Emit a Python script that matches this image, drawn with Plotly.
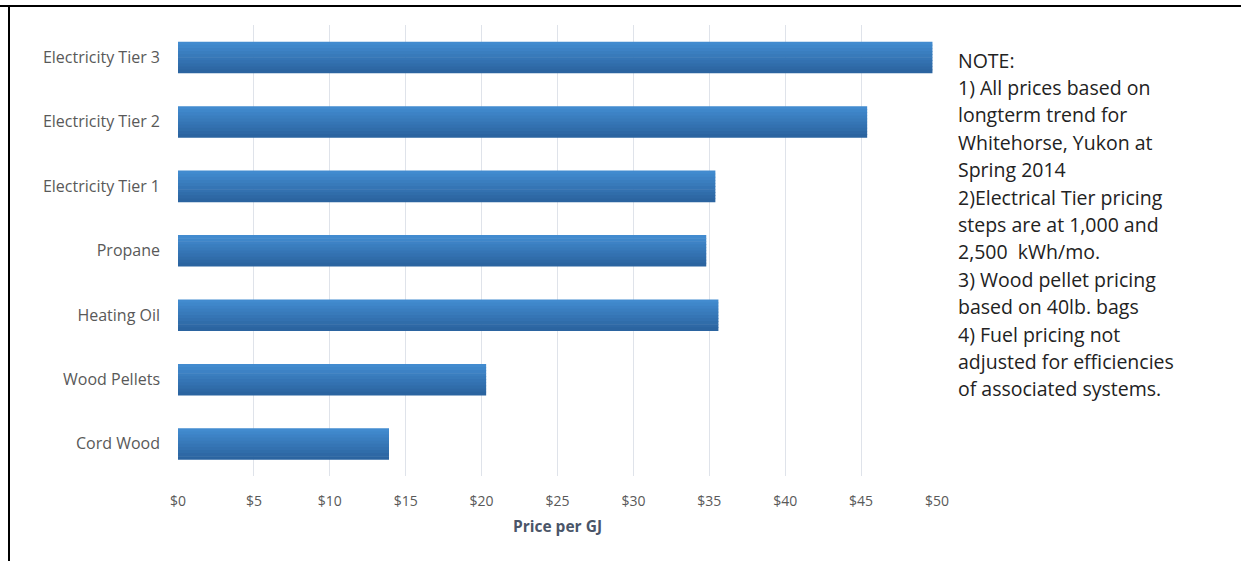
import plotly.graph_objects as go

categories = ["Electricity Tier 3", "Electricity Tier 2", "Electricity Tier 1",
              "Propane", "Heating Oil", "Wood Pellets", "Cord Wood"]
prices = [49.7, 45.4, 35.4, 34.8, 35.6, 20.3, 13.9]
tick_vals = [0, 5, 10, 15, 20, 25, 30, 35, 40, 45, 50]
tick_text = ["$0", "$5", "$10", "$15", "$20", "$25", "$30", "$35", "$40", "$45", "$50"]
note_lines = [
    "NOTE:",
    "1) All prices based on",
    "longterm trend for",
    "Whitehorse, Yukon at",
    "Spring 2014",
    "2)Electrical Tier pricing",
    "steps are at 1,000 and",
    "2,500  kWh/mo.",
    "3) Wood pellet pricing",
    "based on 40lb. bags",
    "4) Fuel pricing not",
    "adjusted for efficiencies",
    "of associated systems.",
]

W, H = 1241, 561
L, R, T, B = 178, 304, 25, 85
pw, ph = W - L - R, H - T - B

def px_x(p):
    return (p - L) / pw

def px_y(p):
    return 1 - (p - T) / ph

top_rgb = (0x42, 0x8b, 0xcf)
bot_rgb = (0x2b, 0x64, 0xa0)
n_bands = 10
bar_w = 0.48
band = bar_w / n_bands

fig = go.Figure()
for k in range(n_bands):
    t = k / (n_bands - 1)
    c = tuple(round(top_rgb[i] + (bot_rgb[i] - top_rgb[i]) * t) for i in range(3))
    fig.add_trace(go.Bar(
        y=categories, x=prices, orientation="h",
        width=band * 1.2, offset=-bar_w / 2 + k * band,
        marker=dict(color="rgb(%d,%d,%d)" % c, line=dict(width=0)),
        showlegend=False, hoverinfo="x+y",
    ))

shapes = [
    dict(type="line", xref="paper", yref="paper",
         x0=px_x(0), x1=px_x(W), y0=px_y(6), y1=px_y(6),
         line=dict(color="black", width=2)),
    dict(type="line", xref="paper", yref="paper",
         x0=px_x(9), x1=px_x(9), y0=px_y(5), y1=px_y(H + 2),
         line=dict(color="black", width=2)),
]

annotations = []
line_h = 27.4
for i, txt in enumerate(note_lines):
    annotations.append(dict(
        text=txt, xref="paper", yref="paper",
        x=px_x(956), y=px_y(60 + i * line_h), xanchor="left", yanchor="middle",
        showarrow=False, font=dict(family="Open Sans", size=19.5, color="#222222"),
    ))

fig.update_layout(
    width=W, height=H,
    margin=dict(l=L, r=R, t=T, b=B, pad=0),
    paper_bgcolor="white", plot_bgcolor="white",
    barmode="overlay", bargap=0.52,
    font=dict(family="Open Sans", size=14, color="#595959"),
    shapes=shapes, annotations=annotations,
    xaxis=dict(
        range=[0, 50], tickvals=tick_vals, ticktext=tick_text,
        showgrid=True, gridcolor="#dfe3ea", gridwidth=1,
        zeroline=False, showline=False, ticks="",
        ticklabelstandoff=15,
        tickfont=dict(family="Open Sans", size=14, color="#595959"),
        title=dict(text="<b>Price per GJ</b>", standoff=12,
                   font=dict(family="Open Sans", size=15.5, color="#4a5568")),
    ),
    yaxis=dict(
        autorange="reversed", showgrid=False, zeroline=False, showline=False,
        ticks="", ticklabelstandoff=17,
        tickfont=dict(family="Open Sans", size=16, color="#595959"),
    ),
)

fig.write_html("out.html", config={"displayModeBar": False},
               post_script="document.body.style.margin='0';document.body.style.padding='0';document.body.style.overflow='hidden';")
